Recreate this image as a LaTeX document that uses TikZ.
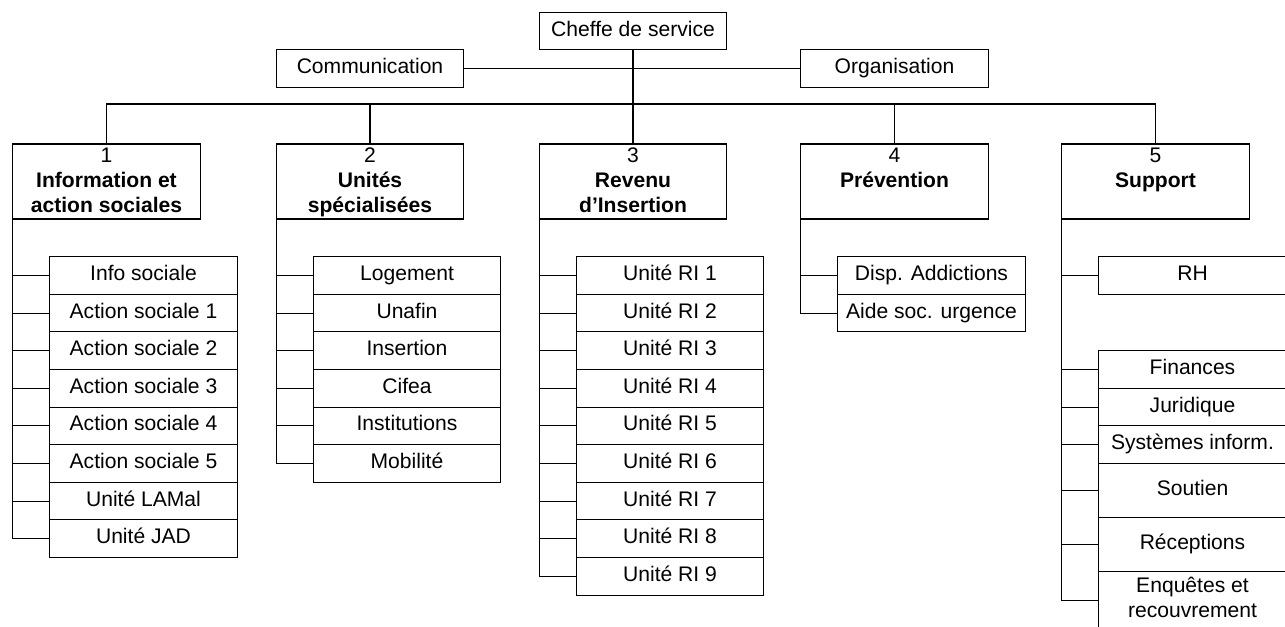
\documentclass[tikz,border=0pt]{standalone}
\usepackage{fontspec}
\setmainfont{Liberation Sans}
\usetikzlibrary{positioning}

\begin{document}
\begin{tikzpicture}[
    x=0.02cm, y=-0.02cm,
    node distance=0pt,
    box/.style={draw, line width=0.6pt, minimum width=3.75cm, minimum height=0.75cm, inner sep=0pt, outer sep=0pt, align=center, font=\fontsize{12}{14.4}\selectfont, execute at begin node=\strut, execute at end node=\strut},
    dept/.style={box, minimum height=1.5cm},
    title/.style={anchor=north, inner sep=0pt, align=center, font=\fontsize{12}{14.4}\selectfont},
    unit/.style={box, minimum height=0.752cm},
    link/.style={draw, line width=0.6pt}
]

% Frame of the picture
\useasboundingbox (0,0) rectangle (1285,626);
\clip (0,0) rectangle (1285,626);

% Head of the service
\node[box] (chef) at (633,31) {Cheffe de service};
\node[box] (comm) at (370,68.5) {Communication};
\node[box] (org) at (894.5,68.5) {Organisation};

% Departments
\node[dept] (d1) at (106.5,181.5) {};
\node[dept] (d2) at (370,181.5) {};
\node[dept] (d3) at (633,181.5) {};
\node[dept] (d4) at (894.5,181.5) {};
\node[dept] (d5) at (1155.5,181.5) {};

% Department titles
\node[title] (t1) at (d1.north) {\strut 1\\\textbf{Information et}\\\textbf{action sociales}};
\node[title] (t2) at (d2.north) {\strut 2\\\textbf{Unités}\\\textbf{spécialisées}};
\node[title] (t3) at (d3.north) {\strut 3\\\textbf{Revenu}\\\textbf{d’Insertion}};
\node[title] (t4) at (d4.north) {\strut 4\\\textbf{Prévention}};
\node[title] (t5) at (d5.north) {\strut 5\\\textbf{Support}};

% Links between head and departments
\coordinate (bus) at (633,104);
\draw[link] (chef) -- (d3);
\draw[link] (comm) -- (org);
\draw[link] (d1.north) |- (bus) -| (d5.north);
\draw[link] (d2.north) -- (d2.north |- bus);
\draw[link] (d4.north) -- (d4.north |- bus);

% Units of department 1
\node[unit] (i1) at (143.5,275.5) {Info sociale};
\node[unit, below=of i1] (i2) {Action sociale 1};
\node[unit, below=of i2] (i3) {Action sociale 2};
\node[unit, below=of i3] (i4) {Action sociale 3};
\node[unit, below=of i4] (i5) {Action sociale 4};
\node[unit, below=of i5] (i6) {Action sociale 5};
\node[unit, below=of i6] (i7) {Unité LAMal};
\node[unit, below=of i7] (i8) {Unité JAD};

% Units of department 2
\node[unit] (u1) at (407,275.5) {Logement};
\node[unit, below=of u1] (u2) {Unafin};
\node[unit, below=of u2] (u3) {Insertion};
\node[unit, below=of u3] (u4) {Cifea};
\node[unit, below=of u4] (u5) {Institutions};
\node[unit, below=of u5] (u6) {Mobilité};

% Units of department 3
\node[unit] (r1) at (670,275.5) {Unité RI 1};
\node[unit, below=of r1] (r2) {Unité RI 2};
\node[unit, below=of r2] (r3) {Unité RI 3};
\node[unit, below=of r3] (r4) {Unité RI 4};
\node[unit, below=of r4] (r5) {Unité RI 5};
\node[unit, below=of r5] (r6) {Unité RI 6};
\node[unit, below=of r6] (r7) {Unité RI 7};
\node[unit, below=of r7] (r8) {Unité RI 8};
\node[unit, below=of r8] (r9) {Unité RI 9};

% Units of department 4
\node[unit] (p1) at (931.5,275.5) {Disp. Addictions};
\node[unit, below=of p1] (p2) {Aide soc. urgence};

% Units of department 5
\node[unit] (s1) at (1192.5,275.5) {RH};
\node[unit, below=1.128cm of s1] (s2) {Finances};
\node[unit, below=of s2] (s3) {Juridique};
\node[unit, below=of s3] (s4) {Systèmes inform.};
\node[unit, below=of s4, minimum height=1.08cm] (s5) {Soutien};
\node[unit, below=of s5, minimum height=1.09cm] (s6) {Réceptions};
\node[unit, below=of s6, minimum height=1.16cm] (s7) {Enquêtes et\\recouvrement};

% Tree lines, department 1
\draw[link] (d1.south west) |- (i8.west);
\draw[link] (d1.south west |- i1.west) -- (i1.west);
\draw[link] (d1.south west |- i2.west) -- (i2.west);
\draw[link] (d1.south west |- i3.west) -- (i3.west);
\draw[link] (d1.south west |- i4.west) -- (i4.west);
\draw[link] (d1.south west |- i5.west) -- (i5.west);
\draw[link] (d1.south west |- i6.west) -- (i6.west);
\draw[link] (d1.south west |- i7.west) -- (i7.west);

% Tree lines, department 2
\draw[link] (d2.south west) |- (u6.west);
\draw[link] (d2.south west |- u1.west) -- (u1.west);
\draw[link] (d2.south west |- u2.west) -- (u2.west);
\draw[link] (d2.south west |- u3.west) -- (u3.west);
\draw[link] (d2.south west |- u4.west) -- (u4.west);
\draw[link] (d2.south west |- u5.west) -- (u5.west);

% Tree lines, department 3
\draw[link] (d3.south west) |- (r9.west);
\draw[link] (d3.south west |- r1.west) -- (r1.west);
\draw[link] (d3.south west |- r2.west) -- (r2.west);
\draw[link] (d3.south west |- r3.west) -- (r3.west);
\draw[link] (d3.south west |- r4.west) -- (r4.west);
\draw[link] (d3.south west |- r5.west) -- (r5.west);
\draw[link] (d3.south west |- r6.west) -- (r6.west);
\draw[link] (d3.south west |- r7.west) -- (r7.west);
\draw[link] (d3.south west |- r8.west) -- (r8.west);

% Tree lines, department 4
\draw[link] (d4.south west) |- (p2.west);
\draw[link] (d4.south west |- p1.west) -- (p1.west);

% Tree lines, department 5
\draw[link] (d5.south west) |- (s7.west);
\draw[link] (d5.south west |- s1.west) -- (s1.west);
\draw[link] (d5.south west |- s2.west) -- (s2.west);
\draw[link] (d5.south west |- s3.west) -- (s3.west);
\draw[link] (d5.south west |- s4.west) -- (s4.west);
\draw[link] (d5.south west |- s5.west) -- (s5.west);
\draw[link] (d5.south west |- s6.west) -- (s6.west);

\end{tikzpicture}
\end{document}
